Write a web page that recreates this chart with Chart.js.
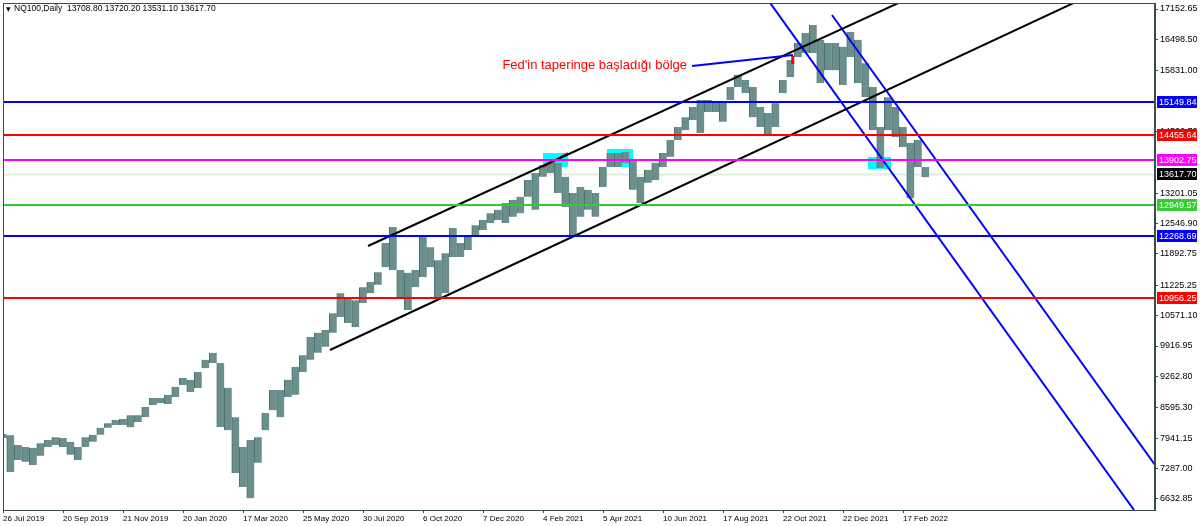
<!DOCTYPE html>
<html>
<head>
<meta charset="utf-8">
<script src="https://cdn.jsdelivr.net/npm/chart.js@4.4.1/dist/chart.umd.min.js"></script>
<style>
  html, body { margin: 0; padding: 0; background: #fff; }
  #wrap { width: 1200px; height: 526px; }
</style>
</head>
<body>
<div id="wrap"><canvas id="chart"></canvas></div>
<script>
// x axis: one step = about one week of trading, a date label every 8 steps
const dateLabels = [
  '26 Jul 2019', '20 Sep 2019', '21 Nov 2019', '20 Jan 2020', '17 Mar 2020', '25 May 2020',
  '30 Jul 2020', '6 Oct 2020', '7 Dec 2020', '4 Feb 2021', '5 Apr 2021', '10 Jun 2021',
  '17 Aug 2021', '22 Oct 2021', '22 Dec 2021', '17 Feb 2022',
]

// weekly range of NQ100
const weekHigh = [
  8030, 8000, 7790, 7750, 7730, 7830, 7900, 7960, 7940, 7860,
  7750, 7960, 8010, 8160, 8260, 8330, 8350, 8430, 8430, 8610,
  8800, 8800, 8870, 9040, 9230, 9190, 9360, 9620, 9770, 9550,
  9020, 8390, 7750, 7900, 7960, 8480, 8970, 8970, 9190, 9470,
  9720, 10110, 10200, 10260, 10620, 11050, 10970, 10900, 11180, 11290,
  11500, 12130, 12470, 11550, 11490, 11550, 12260, 12040, 11760, 11910,
  12450, 12130, 12260, 12510, 12620, 12770, 12840, 12990, 13050, 13120,
  13480, 13630, 13800, 13870, 13850, 13550, 13200, 13330, 13270, 13200,
  13760, 14060, 14060, 14080, 13910, 13550, 13700, 13850, 14060, 14340,
  14620, 14830, 15050, 15200, 15200, 15150, 15150, 15480, 15740, 15630,
  15480, 15050, 14920, 15130, 15630, 16060, 16420, 16640, 16810, 16490,
  16420, 16420, 16340, 16660, 16490, 15990, 15480, 14620, 15260, 15050,
  14620, 14280, 14340, 13760,
]
const weekLow = [
  7940, 7212, 7470, 7430, 7360, 7560, 7750, 7790, 7750, 7580,
  7470, 7750, 7860, 8010, 8160, 8220, 8220, 8170, 8285, 8390,
  8650, 8690, 8670, 8820, 9080, 8930, 9015, 9440, 9550, 8180,
  8110, 7190, 6890, 6650, 7410, 8110, 8540, 8390, 8820, 8870,
  9360, 9620, 9770, 9900, 10200, 10540, 10410, 10320, 10840, 11050,
  11230, 11610, 11550, 10970, 10690, 11180, 11400, 11610, 10970, 11050,
  11830, 11830, 11980, 12260, 12410, 12560, 12620, 12560, 12690, 12770,
  13120, 12840, 13550, 13630, 13200, 12900, 12300, 12690, 12840, 12690,
  13330, 13760, 13760, 13850, 13270, 12990, 13420, 13480, 13760, 13980,
  14340, 14550, 14770, 14490, 14940, 14940, 14730, 15200, 15480, 15350,
  14830, 14620, 14450, 14620, 15350, 15690, 16120, 16210, 16210, 15560,
  15840, 15840, 15520, 16120, 15560, 15260, 14550, 13740, 14550, 14400,
  14190, 13090, 13760, 13540,
]

const lastBar = [13708.80, 13720.20, 13531.10, 13617.70]
const yTicks = [
  17152.65, 16498.50, 15831.00, 14522.70, 13201.05, 12546.90, 11892.75,
  11225.25, 10571.10, 9916.95, 9262.80, 8595.30, 7941.15, 7287.00, 6632.85,
]
const levels = [15149.84, 14455.64, 13902.75, 12949.57, 12268.69, 10956.25]

// trend lines: [startStep, startPrice, endStep, endPrice]
const channelUpper = [48.67, 12064, 120.27, 17346]
const channelLower = [43.6, 9831, 143.6, 17346]
const downLeft = [102.0, 17346, 150.8, 6396]
const downRight = [110.53, 17024, 153.6, 7362]
const touchMark = [72.0, 13760, 75.33, 14061]

// highlighted zones: [fromStep, toStep, topPrice, bottomPrice]
const zones = [
  [72.0, 75.33, 14061, 13760],
  [80.53, 84.0, 14147, 13760],
  [115.33, 118.4, 13975, 13718],
]

const noteText = "Fed'in taperinge başladığı bölge"
const noteAnchor = [91.2, 15950]
const notePointer = [91.87, 15929, 105.33, 16165]
const noteMark = [105.3, 15972, 16144]

const levelColors = ['#0000ff', '#ff0000', '#ff00ff', '#33cc33', '#0000ff', '#ff0000']
const labelFont = '9px "Liberation Sans", Arial, sans-serif'

function segment(line, color, width) {
  return {
    type: 'line',
    data: [{ x: line[0], y: line[1] }, { x: line[2], y: line[3] }],
    borderColor: color,
    borderWidth: width,
    pointRadius: 0,
    fill: false,
    order: 0,
  }
}

const overlay = {
  id: 'overlay',
  beforeDatasetsDraw(chart) {
    const { ctx, chartArea: a, scales: { x, y } } = chart
    ctx.save()
    ctx.beginPath()
    ctx.rect(a.left, a.top, a.right - a.left, a.bottom - a.top)
    ctx.clip()
    ctx.fillStyle = '#00ffff'
    zones.forEach((z) => {
      const x0 = x.getPixelForValue(z[0])
      const x1 = x.getPixelForValue(z[1])
      const y0 = y.getPixelForValue(z[2])
      const y1 = y.getPixelForValue(z[3])
      ctx.fillRect(x0, y0, x1 - x0, y1 - y0)
    })
    // current price line
    const yc = Math.round(y.getPixelForValue(lastBar[3])) + 0.5
    ctx.strokeStyle = '#dcefdc'
    ctx.lineWidth = 2
    ctx.beginPath()
    ctx.moveTo(a.left, yc)
    ctx.lineTo(a.right, yc)
    ctx.stroke()
    ctx.restore()
  },
  afterDatasetsDraw(chart) {
    const { ctx, chartArea: a, scales: { x, y } } = chart
    ctx.save()
    levels.forEach((v, i) => {
      const yy = Math.round(y.getPixelForValue(v))
      ctx.strokeStyle = levelColors[i]
      ctx.lineWidth = 2
      ctx.beginPath()
      ctx.moveTo(a.left, yy)
      ctx.lineTo(a.right, yy)
      ctx.stroke()
    })
    // annotation
    ctx.fillStyle = '#ff0000'
    ctx.font = '13px "Liberation Sans", Arial, sans-serif'
    ctx.textAlign = 'right'
    ctx.textBaseline = 'middle'
    ctx.fillText(noteText, x.getPixelForValue(noteAnchor[0]), y.getPixelForValue(noteAnchor[1]))
    ctx.strokeStyle = '#0000ff'
    ctx.lineWidth = 2
    ctx.beginPath()
    ctx.moveTo(x.getPixelForValue(notePointer[0]), y.getPixelForValue(notePointer[1]))
    ctx.lineTo(x.getPixelForValue(notePointer[2]), y.getPixelForValue(notePointer[3]))
    ctx.stroke()
    ctx.strokeStyle = '#ff0000'
    ctx.lineWidth = 3
    ctx.beginPath()
    ctx.moveTo(x.getPixelForValue(noteMark[0]), y.getPixelForValue(noteMark[1]))
    ctx.lineTo(x.getPixelForValue(noteMark[0]), y.getPixelForValue(noteMark[2]))
    ctx.stroke()
    ctx.restore()
  },
  afterDraw(chart) {
    const { ctx, chartArea: a, scales: { y } } = chart
    ctx.save()
    // frame
    ctx.strokeStyle = '#3c4c4c'
    ctx.lineWidth = 1
    ctx.strokeRect(a.left + 0.5, a.top + 0.5, a.right - a.left - 1, a.bottom - a.top)
    // price boxes on the axis
    ctx.font = labelFont
    ctx.textAlign = 'left'
    ctx.textBaseline = 'middle'
    const boxes = levels.map((v, i) => [v, levelColors[i], '#ffffff'])
    boxes.push([lastBar[3], '#000000', '#ffffff'])
    boxes.forEach(([v, bg, fg]) => {
      const yy = Math.round(y.getPixelForValue(v))
      ctx.fillStyle = bg
      ctx.fillRect(a.right + 2, yy - 6, 40, 12)
      ctx.fillStyle = fg
      ctx.fillText(v.toFixed(2), a.right + 4, yy + 0.5)
    })
    // header
    ctx.fillStyle = '#000000'
    ctx.font = '6px "DejaVu Sans", sans-serif'
    ctx.fillText('\u25BC', a.left + 3, 9)
    ctx.font = '8.5px "Liberation Sans", Arial, sans-serif'
    ctx.fillText('NQ100,Daily  ' + lastBar.map((v) => v.toFixed(2)).join(' '), a.left + 11, 9)
    ctx.restore()
  },
}

new Chart(document.getElementById('chart'), {
  data: {
    datasets: [
      {
        type: 'bar',
        data: weekHigh.map((h, i) => ({ x: i, y: [weekLow[i], h] })),
        backgroundColor: '#6b8f8d',
        borderColor: '#4c706f',
        borderWidth: { left: 1, right: 0, top: 0, bottom: 0 },
        borderSkipped: false,
        barPercentage: 1,
        categoryPercentage: 1,
        order: 1,
      },
      segment(channelUpper, '#000000', 2),
      segment(channelLower, '#000000', 2),
      segment(downLeft, '#0000ff', 2),
      segment(downRight, '#0000ff', 2),
      segment(touchMark, '#ff0000', 2),
    ],
  },
  options: {
    responsive: true,
    maintainAspectRatio: false,
    animation: false,
    layout: { padding: { left: 3, top: 3, right: 0, bottom: 0 } },
    plugins: { legend: { display: false }, tooltip: { enabled: false } },
    scales: {
      x: {
        type: 'linear',
        offset: false,
        min: 0,
        max: 153.6,
        afterFit: (scale) => { scale.height = 16 },
        afterBuildTicks: (scale) => {
          scale.ticks = dateLabels.map((_, i) => ({ value: i * 8 }))
        },
        ticks: {
          align: 'start',
          padding: 1,
          maxRotation: 0,
          autoSkip: false,
          color: '#000000',
          font: { family: '"Liberation Sans", Arial, sans-serif', size: 8 },
          callback: (value) => dateLabels[value / 8],
        },
        grid: { drawOnChartArea: false, offset: false, tickLength: 3, color: '#3c4c4c' },
        border: { color: '#3c4c4c' },
      },
      y: {
        position: 'right',
        min: 6396,
        max: 17281.5,
        afterFit: (scale) => { scale.width = 45 },
        afterBuildTicks: (scale) => {
          scale.ticks = yTicks.map((v) => ({ value: v }))
        },
        ticks: {
          padding: 2,
          color: '#000000',
          font: { family: '"Liberation Sans", Arial, sans-serif', size: 9, lineHeight: 0.2 },
          callback: (value) => value.toFixed(2),
        },
        grid: { drawOnChartArea: false, tickLength: 3, color: '#3c4c4c' },
        border: { color: '#3c4c4c' },
      },
    },
  },
  plugins: [overlay],
})
</script>
</body>
</html>
